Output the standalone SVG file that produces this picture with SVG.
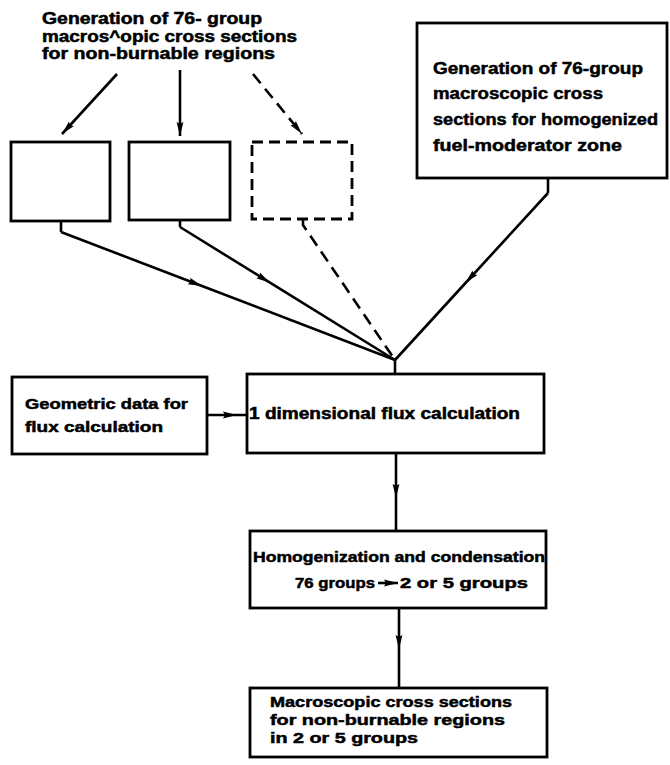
<svg xmlns="http://www.w3.org/2000/svg" width="670" height="765" viewBox="0 0 670 765">
<style>
.box{fill:#fff;stroke:#000;stroke-width:2.8}
.dbox{fill:#fff;stroke:#000;stroke-width:2.8;stroke-dasharray:11 6}
.ln{fill:none;stroke:#000;stroke-width:2.6}
.dl{fill:none;stroke:#000;stroke-width:2.6;stroke-dasharray:12 7}
text{font-family:"Liberation Sans",Arial,sans-serif;font-weight:bold;fill:#000;stroke:#000;stroke-width:0.5}
.t16{font-size:16px}
.t17{font-size:17px}
.t15{font-size:15px}
</style>
<defs>
<marker id="ah" markerUnits="userSpaceOnUse" markerWidth="16" markerHeight="10" refX="14" refY="5" orient="auto" viewBox="0 0 16 10">
<path d="M0,1.6 L14,5 L0,8.4 L2,5 z" fill="#000"/>
</marker>
</defs>
<rect width="670" height="765" fill="#fff"/>

<g id="top-label">
<text class="t16" x="42" y="24" textLength="220" lengthAdjust="spacingAndGlyphs">Generation of 76- group</text>
<text class="t16" x="42" y="42" textLength="255" lengthAdjust="spacingAndGlyphs">macros^opic cross sections</text>
<text class="t16" x="42" y="59" textLength="233" lengthAdjust="spacingAndGlyphs">for non-burnable regions</text>
</g>

<g id="box1"><rect class="box" x="11" y="142" width="99" height="79"/></g>
<g id="box2"><rect class="box" x="129" y="142" width="101" height="78"/></g>
<g id="box3"><rect class="dbox" x="252" y="142" width="100" height="77"/></g>

<g id="fuel-box">
<rect class="box" x="417" y="23" width="250" height="155"/>
<text class="t17" x="433" y="74" textLength="210" lengthAdjust="spacingAndGlyphs">Generation of 76-group</text>
<text class="t17" x="433" y="99" textLength="170" lengthAdjust="spacingAndGlyphs">macroscopic cross</text>
<text class="t17" x="433" y="125" textLength="225" lengthAdjust="spacingAndGlyphs">sections for homogenized</text>
<text class="t17" x="433" y="151" textLength="189" lengthAdjust="spacingAndGlyphs">fuel-moderator zone</text>
</g>

<g id="geometric-box">
<rect class="box" x="12" y="377" width="195" height="77"/>
<text class="t15" x="25" y="409" textLength="163" lengthAdjust="spacingAndGlyphs">Geometric data for</text>
<text class="t15" x="25" y="432" textLength="138" lengthAdjust="spacingAndGlyphs">flux calculation</text>
</g>

<g id="flux-box">
<rect class="box" x="247" y="374" width="297" height="79"/>
<text class="t16" x="249" y="419" textLength="271" lengthAdjust="spacingAndGlyphs">1 dimensional flux calculation</text>
</g>

<g id="homog-box">
<rect class="box" x="250" y="531" width="296" height="77"/>
<text class="t15" x="253" y="562" textLength="292" lengthAdjust="spacingAndGlyphs">Homogenization and condensation</text>
<text class="t15" x="295" y="588" textLength="80" lengthAdjust="spacingAndGlyphs">76 groups</text>
<path class="ln" d="M378,583 L398,583" stroke-width="2.2" marker-end="url(#ah)"/>
<text class="t15" x="400" y="588" textLength="128" lengthAdjust="spacingAndGlyphs">2 or 5 groups</text>
</g>

<g id="result-box">
<rect class="box" x="250" y="688" width="297" height="69"/>
<text class="t15" x="270" y="707" textLength="242" lengthAdjust="spacingAndGlyphs">Macroscopic cross sections</text>
<text class="t15" x="270" y="725" textLength="235" lengthAdjust="spacingAndGlyphs">for non-burnable regions</text>
<text class="t15" x="270" y="743" textLength="148" lengthAdjust="spacingAndGlyphs">in 2 or 5 groups</text>
</g>

<g id="connectors">
<path class="ln" d="M117,74 L62,134" marker-end="url(#ah)"/>
<path class="ln" d="M180,70 L180,136" marker-end="url(#ah)"/>
<path class="dl" d="M253,74 L302,134" marker-end="url(#ah)"/>

<path class="ln" d="M61,221 V232"/>
<path class="ln" d="M61,232 L202,286 L395,360" marker-mid="url(#ah)"/>
<path class="ln" d="M180,220 V227"/>
<path class="ln" d="M180,227 L270,282.7 L395,360" marker-mid="url(#ah)"/>
<path class="dl" d="M303,219 V225 L395,360"/>
<path class="ln" d="M548,178 V193"/>
<path class="ln" d="M548,193 L465.5,283 L395,360" marker-mid="url(#ah)"/>
<path class="ln" d="M395,360 V374"/>

<path class="ln" d="M207,415 L237,415 L247,415" marker-mid="url(#ah)"/>
<path class="ln" d="M396,453 L396,498 L396,531" marker-mid="url(#ah)"/>
<path class="ln" d="M399,608 L399,649 L399,688" marker-mid="url(#ah)"/>
</g>
</svg>
